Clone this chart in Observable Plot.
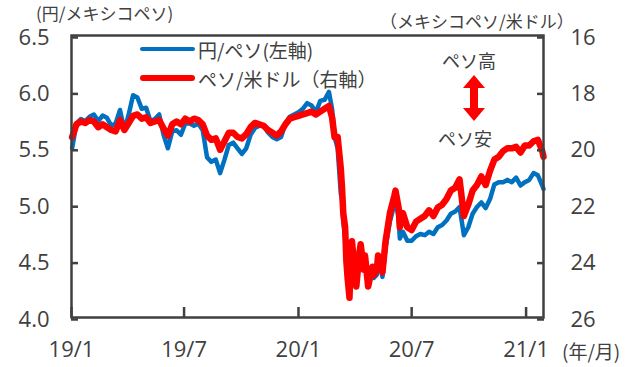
<!DOCTYPE html>
<html><head><meta charset="utf-8">
<script src="https://cdn.jsdelivr.net/npm/d3@7"></script>
<script src="https://cdn.jsdelivr.net/npm/@observablehq/plot@0.6"></script>
<style>
body{margin:0;background:#fff}
#wrap{position:relative;width:632px;height:367px;overflow:hidden}
#wrap svg{display:block}
.lbl{position:absolute;white-space:nowrap;color:#404040;font-family:"Noto Sans CJK JP","Open Sans",sans-serif;line-height:1}
.bar{position:absolute}
</style>
</head><body>
<div id="wrap"></div>
<script>
// ---- data ----
const dates = [
"2019-01-02","2019-01-09","2019-01-16","2019-01-23","2019-01-30","2019-02-06","2019-02-13","2019-02-20","2019-02-27",
"2019-03-06","2019-03-13","2019-03-20","2019-03-27","2019-04-03","2019-04-10","2019-04-17","2019-04-24",
"2019-05-01","2019-05-08","2019-05-15","2019-05-22","2019-05-29","2019-06-05","2019-06-12","2019-06-19","2019-06-26",
"2019-07-03","2019-07-10","2019-07-17","2019-07-24","2019-07-31","2019-08-07","2019-08-14","2019-08-21","2019-08-28",
"2019-09-04","2019-09-11","2019-09-18","2019-09-25","2019-10-02","2019-10-09","2019-10-16","2019-10-23","2019-10-30",
"2019-11-06","2019-11-13","2019-11-20","2019-11-27","2019-12-04","2019-12-11","2019-12-18","2019-12-25",
"2020-01-01","2020-01-08","2020-01-15","2020-01-22","2020-01-29","2020-02-05","2020-02-12","2020-02-19","2020-02-24","2020-02-28",
"2020-03-04","2020-03-09","2020-03-11","2020-03-13","2020-03-16","2020-03-18","2020-03-20","2020-03-23","2020-03-25","2020-03-27",
"2020-04-01","2020-04-03","2020-04-08","2020-04-10","2020-04-15","2020-04-17","2020-04-22","2020-04-24","2020-04-29",
"2020-05-01","2020-05-06","2020-05-08","2020-05-13","2020-05-15","2020-05-20","2020-05-27",
"2020-06-03","2020-06-05","2020-06-10","2020-06-12","2020-06-17","2020-06-24",
"2020-07-01","2020-07-08","2020-07-15","2020-07-22","2020-07-29","2020-08-05","2020-08-12","2020-08-19","2020-08-26",
"2020-09-02","2020-09-09","2020-09-16","2020-09-23","2020-09-30","2020-10-07","2020-10-14","2020-10-21","2020-10-28",
"2020-11-04","2020-11-11","2020-11-18","2020-11-25","2020-12-02","2020-12-09","2020-12-16","2020-12-23","2020-12-30",
"2021-01-06","2021-01-13","2021-01-20","2021-01-27","2021-01-29"
];
// 円/ペソ (left axis)
const yenPerPeso = [
5.50,5.72,5.76,5.74,5.78,5.80,5.74,5.79,5.77,
5.70,5.72,5.84,5.66,5.80,5.97,5.95,5.85,
5.86,5.74,5.76,5.80,5.62,5.50,5.65,5.66,5.62,
5.72,5.72,5.70,5.72,5.66,5.42,5.38,5.40,5.28,
5.40,5.53,5.55,5.50,5.45,5.50,5.62,5.68,5.70,
5.70,5.64,5.60,5.58,5.60,5.72,5.78,5.80,
5.82,5.85,5.90,5.88,5.82,5.92,5.93,6.00,5.85,5.60,
5.50,5.10,5.05,4.85,4.70,4.45,4.35,4.22,4.45,4.60,
4.35,4.30,4.55,4.60,4.42,4.50,4.28,4.32,4.42,
4.35,4.38,4.50,4.42,4.36,4.62,4.85,
5.00,5.05,4.88,4.70,4.76,4.68,
4.68,4.72,4.74,4.73,4.76,4.74,4.80,4.82,4.86,
4.92,4.94,4.98,4.73,4.80,4.92,4.98,5.02,4.97,
5.05,5.18,5.20,5.20,5.22,5.20,5.24,5.17,5.20,
5.22,5.28,5.26,5.17,5.14
];
// ペソ/米ドル (right axis, inverted)
const pesoPerUsd = [
19.60,19.15,19.05,19.10,19.00,19.05,19.25,19.15,19.25,
19.35,19.40,19.00,19.35,19.10,18.85,18.80,18.95,
18.90,19.10,19.05,19.00,19.30,19.55,19.15,19.05,19.15,
18.95,19.05,18.95,19.00,19.15,19.55,19.70,19.65,20.05,
19.75,19.45,19.45,19.60,19.65,19.50,19.25,19.10,19.15,
19.20,19.35,19.45,19.55,19.40,19.15,18.95,18.90,
18.85,18.80,18.75,18.70,18.80,18.70,18.60,18.50,18.90,19.60,
19.60,20.70,21.40,22.30,22.80,24.00,24.60,25.30,24.10,23.30,
24.50,24.90,23.70,23.40,24.30,23.80,24.90,24.70,24.20,
24.50,24.30,23.80,24.10,24.40,23.30,22.30,
21.70,21.50,22.10,22.80,22.30,22.80,
22.90,22.60,22.50,22.40,22.20,22.40,22.10,22.00,21.80,
21.50,21.40,21.10,22.40,22.00,21.50,21.30,21.00,21.30,
20.80,20.40,20.30,20.10,20.00,20.00,19.95,20.15,19.90,
19.90,19.75,19.70,20.10,20.30
];
const leftTicks = [4.0, 4.5, 5.0, 5.5, 6.0, 6.5];
const rightTicks = [16, 18, 20, 22, 24, 26];
const xTickDates = ["2019-01-01","2019-07-01","2020-01-01","2020-07-01","2021-01-01"];
const xTickLabels = ["19/1","19/7","20/1","20/7","21/1"];
const seriesNames = ["円/ペソ(左軸)", "ペソ/米ドル（右軸）"];
const seriesColors = ["#0070c0", "#ff0000"];

// ---- build ----
const parse = d3.utcParse("%Y-%m-%d");
const toLeft = r => 6.5 - (r - 16) / 4;          // right-axis value -> left-axis position
const fromLeft = v => Math.round(16 + (6.5 - v) * 4);
const data = dates.map((d, i) => ({date: parse(d), yen: yenPerPeso[i], usd: pesoPerUsd[i]}));
const xTicks = xTickDates.map(parse);
const xLabel = new Map(xTicks.map((d, i) => [+d, xTickLabels[i]]));
const ink = "#404040";
const numFont = "'Open Sans','Noto Sans CJK JP',sans-serif";

const chart = Plot.plot({
  width: 632, height: 367,
  marginLeft: 71, marginRight: 89, marginTop: 35, marginBottom: 50,
  x: {type: "utc", domain: [parse("2019-01-01"), parse("2021-01-29")]},
  y: {domain: [4, 6.5]},
  style: {fontFamily: numFont, fontSize: "22px", color: ink, background: "#fff"},
  marks: [
    Plot.lineY(data, {x: "date", y: "yen", stroke: seriesColors[0], strokeWidth: 4.5, strokeLinejoin: "round"}),
    Plot.lineY(data, {x: "date", y: d => toLeft(d.usd), stroke: seriesColors[1], strokeWidth: 6.5, strokeLinejoin: "round"}),
    Plot.frame({stroke: ink, strokeWidth: 2.5}),
    Plot.axisY(leftTicks, {anchor: "left", tickSize: 7, dx: 7, tickPadding: 22, dy: 2,
      tickFormat: d3.format(".1f"), fontSize: 22, color: ink, strokeWidth: 2.5, label: null}),
    Plot.axisY(rightTicks.map(toLeft), {anchor: "right", tickSize: 7, dx: -7, tickPadding: 27, dy: 2,
      tickFormat: v => String(fromLeft(v)), fontSize: 22, color: ink, strokeWidth: 2.5, label: null}),
    Plot.axisX(xTicks, {anchor: "bottom", tickSize: 10, dy: -10, tickPadding: 24,
      tickFormat: d => xLabel.get(+d), fontSize: 22, color: ink, strokeWidth: 2.5, label: null})
  ]
});
const wrap = document.getElementById("wrap");
wrap.appendChild(chart);

function addLabel(text, left, cy, size, anchor) {
  const el = document.createElement("div");
  el.className = "lbl";
  el.textContent = text;
  el.style.fontSize = size + "px";
  el.style.top = (cy - size / 2) + "px";
  if (anchor === "middle") { el.style.left = left + "px"; el.style.transform = "translateX(-50%)"; }
  else el.style.left = left + "px";
  wrap.appendChild(el);
}
function addBar(color, left, cy, w, h) {
  const el = document.createElement("div");
  el.className = "bar";
  el.style.cssText += `left:${left}px;top:${cy - h / 2}px;width:${w}px;height:${h}px;background:${color};border-radius:${h/2}px`;
  wrap.appendChild(el);
}
// axis titles
addLabel("(円/メキシコペソ)", 36, 12, 17);
addLabel("（メキシコペソ/米ドル）", 380, 20, 17);
addLabel("(年/月)", 562, 350, 19);
// legend
addBar(seriesColors[0], 140, 49, 55, 4);
addLabel(seriesNames[0], 198, 49, 19);
addBar(seriesColors[1], 140, 78, 55, 6);
addLabel(seriesNames[1], 198, 78, 19);
// annotation
addLabel("ペソ高", 469, 60, 18, "middle");
addLabel("ペソ安", 465, 138, 18, "middle");
const ns = "http://www.w3.org/2000/svg";
const arr = document.createElementNS(ns, "svg");
arr.setAttribute("width", 24); arr.setAttribute("height", 48);
arr.style.cssText = "position:absolute;left:462px;top:74px";
const poly = document.createElementNS(ns, "polygon");
poly.setAttribute("points", "12,1 23,14 16,14 16,34 23,34 12,47 1,34 8,34 8,14 1,14");
poly.setAttribute("fill", "#ff0000");
arr.appendChild(poly);
wrap.appendChild(arr);
</script>
</body></html>
